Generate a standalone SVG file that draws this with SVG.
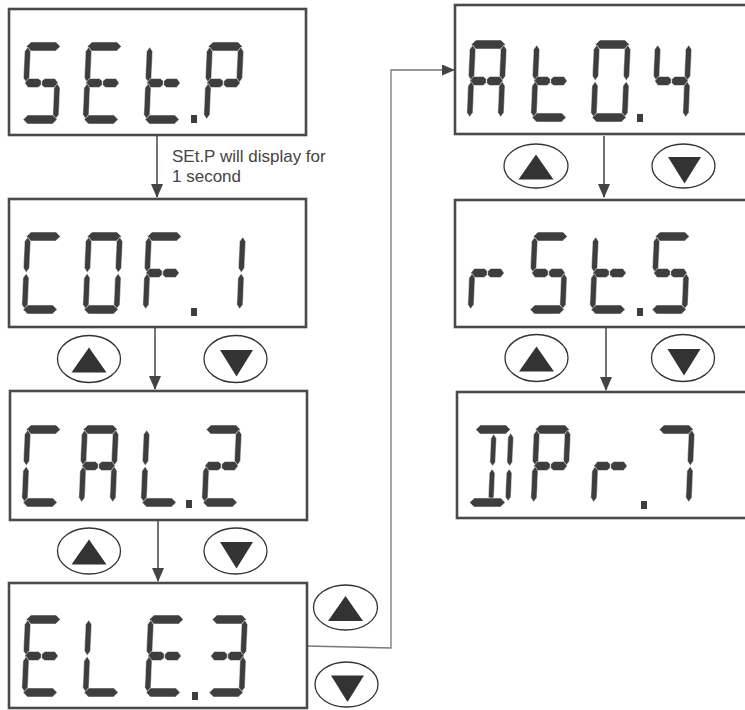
<svg xmlns="http://www.w3.org/2000/svg" width="745" height="710" viewBox="0 0 745 710">
<style>
.box{fill:#fff;stroke:#4a4a4a;stroke-width:2.6}
.seg{fill:#3e3e3e;stroke:#fff;stroke-width:0.5}
.btn{fill:#fff;stroke:#333;stroke-width:1.3}
.tri{fill:#333}
.con{fill:none;stroke:#444;stroke-width:1.5}
.con2{fill:none;stroke:#777;stroke-width:1.3}
.lbl{font-family:"Liberation Sans",Arial,sans-serif;font-size:17px;fill:#444}
</style>
<defs>
<marker id="ah" markerUnits="userSpaceOnUse" markerWidth="14" markerHeight="14" viewBox="0 0 14 12" refX="13" refY="6" orient="auto">
<path d="M0,0 L14,6 L0,12 Z" fill="#444"/>
</marker>
<marker id="ah2" markerUnits="userSpaceOnUse" markerWidth="13" markerHeight="11" viewBox="0 0 13 11" refX="12" refY="5.5" orient="auto">
<path d="M0,0 L13,5.5 L0,11 Z" fill="#444"/>
</marker>
<polygon id="sa" class="seg" points="1.5,4.5 6,0 31,0 35.5,4.5 31,9 6,9"/>
<polygon id="sd" class="seg" points="1.5,77.5 6,73 31,73 35.5,77.5 31,82 6,82"/>
<path id="sg" class="seg" d="M1.5,41 L5,36.5 L15,36.5 L18,39 L18,43 L15,45.5 L5,45.5 Z M18.5,39 L21.5,36.5 L31.5,36.5 L35,41 L31.5,45.5 L21.5,45.5 L18.5,43 Z"/>
<polygon id="sf" class="seg" points="3,5 6,9.5 6,36 3,40.5 0,36 0,9.5"/>
<polygon id="sb" class="seg" points="34,5 37,9.5 37,36 34,40.5 31,36 31,9.5"/>
<polygon id="se" class="seg" points="3,41.5 6,46 6,72.5 3,77 0,72.5 0,46"/>
<polygon id="sc" class="seg" points="34,41.5 37,46 37,72.5 34,77 31,72.5 31,46"/>
<rect id="dp" x="0" y="0" width="6" height="8" fill="#3e3e3e"/>
<polygon id="up" class="tri" points="0,-11.5 -17.5,13.5 17.5,13.5"/>
<polygon id="dn" class="tri" points="-15.5,-9 17.5,-9 1,17.5"/>
</defs>

<g id="connectors">
<line class="con" x1="157" y1="135" x2="157" y2="197" marker-end="url(#ah)"/>
<line class="con" x1="155" y1="327" x2="155" y2="389" marker-end="url(#ah)"/>
<line class="con" x1="158" y1="520" x2="158" y2="581" marker-end="url(#ah)"/>
<line class="con" x1="604" y1="136" x2="604" y2="197" marker-end="url(#ah)"/>
<line class="con" x1="606" y1="327" x2="606" y2="390" marker-end="url(#ah)"/>
<polyline class="con2" points="307,646 391,648 391,70 454,70" marker-end="url(#ah2)"/>
</g>

<text class="lbl" x="172" y="162">SEt.P will display for</text>
<text class="lbl" x="172" y="182">1 second</text>

<g id="setp">
<rect class="box" x="9" y="9" width="297" height="126"/>
<g transform="translate(25,42) skewX(-2.5)"><use href="#sa"/><use href="#sf"/><use href="#sg"/><use href="#sc"/><use href="#sd"/></g>
<g transform="translate(86,42) skewX(-2.5)"><use href="#sa"/><use href="#sf"/><use href="#sg"/><use href="#se"/><use href="#sd"/></g>
<g transform="translate(147,42) skewX(-2.5)"><use href="#sf"/><use href="#sg"/><use href="#se"/><use href="#sd"/></g>
<g transform="translate(207,42) skewX(-2.5)"><use href="#sa"/><use href="#sf"/><use href="#sb"/><use href="#sg"/><use href="#se"/></g>
<use href="#dp" x="191" y="115"/>
</g>

<g id="cof1">
<rect class="box" x="9" y="199" width="297" height="128"/>
<g transform="translate(25,232) skewX(-2.5)"><use href="#sa"/><use href="#sf"/><use href="#se"/><use href="#sd"/></g>
<g transform="translate(86,232) skewX(-2.5)"><use href="#sa"/><use href="#sf"/><use href="#sb"/><use href="#sc"/><use href="#se"/><use href="#sd"/></g>
<g transform="translate(146,232) skewX(-2.5)"><use href="#sa"/><use href="#sf"/><use href="#sg"/><use href="#se"/></g>
<g transform="translate(209,232) skewX(-2.5)"><use href="#sb"/><use href="#sc"/></g>
<use href="#dp" x="191" y="308"/>
</g>

<g id="cal2">
<rect class="box" x="10" y="391" width="297" height="129"/>
<g transform="translate(25,425) skewX(-2.5)"><use href="#sa"/><use href="#sf"/><use href="#se"/><use href="#sd"/></g>
<g transform="translate(82,425) skewX(-2.5)"><use href="#sa"/><use href="#sf"/><use href="#sb"/><use href="#sg"/><use href="#sc"/><use href="#se"/></g>
<g transform="translate(144,425) skewX(-2.5)"><use href="#sf"/><use href="#se"/><use href="#sd"/></g>
<g transform="translate(205,425) skewX(-2.5)"><use href="#sa"/><use href="#sb"/><use href="#sg"/><use href="#se"/><use href="#sd"/></g>
<use href="#dp" x="186" y="500"/>
</g>

<g id="ele3">
<rect class="box" x="9" y="583" width="298" height="125"/>
<g transform="translate(25,615) skewX(-2.5)"><use href="#sa"/><use href="#sf"/><use href="#sg"/><use href="#se"/><use href="#sd"/></g>
<g transform="translate(86,615) skewX(-2.5)"><use href="#sf"/><use href="#se"/><use href="#sd"/></g>
<g transform="translate(148,615) skewX(-2.5)"><use href="#sa"/><use href="#sf"/><use href="#sg"/><use href="#se"/><use href="#sd"/></g>
<g transform="translate(211,615) skewX(-2.5)"><use href="#sa"/><use href="#sb"/><use href="#sg"/><use href="#sc"/><use href="#sd"/></g>
<use href="#dp" x="192" y="692"/>
</g>

<g id="at04">
<rect class="box" x="455" y="5" width="297" height="129"/>
<g transform="translate(470,40) skewX(-2.5)"><use href="#sa"/><use href="#sf"/><use href="#sb"/><use href="#sg"/><use href="#sc"/><use href="#se"/></g>
<g transform="translate(534,40) skewX(-2.5)"><use href="#sf"/><use href="#sg"/><use href="#se"/><use href="#sd"/></g>
<g transform="translate(594,40) skewX(-2.5)"><use href="#sa"/><use href="#sf"/><use href="#sb"/><use href="#sc"/><use href="#se"/><use href="#sd"/></g>
<g transform="translate(655,40) skewX(-2.5)"><use href="#sf"/><use href="#sb"/><use href="#sg"/><use href="#sc"/></g>
<use href="#dp" x="637" y="114"/>
</g>

<g id="rsts">
<rect class="box" x="455" y="200" width="297" height="127"/>
<g transform="translate(471,232) skewX(-2.5)"><use href="#sg"/><use href="#se"/></g>
<g transform="translate(532,232) skewX(-2.5)"><use href="#sa"/><use href="#sf"/><use href="#sg"/><use href="#sc"/><use href="#sd"/></g>
<g transform="translate(593,232) skewX(-2.5)"><use href="#sf"/><use href="#sg"/><use href="#se"/><use href="#sd"/></g>
<g transform="translate(654,232) skewX(-2.5)"><use href="#sa"/><use href="#sf"/><use href="#sg"/><use href="#sc"/><use href="#sd"/></g>
<use href="#dp" x="637" y="308"/>
</g>

<g id="dpr7">
<rect class="box" x="457" y="392" width="297" height="126"/>
<g transform="translate(473,425) skewX(-2.5)">
<polygon class="seg" points="3,4.5 7.5,0 33,0 37.5,4.5 33,9 7.5,9"/>
<polygon class="seg" points="21,9 24,13.5 24,37 21.5,41 18.5,37 18.5,13.5"/>
<polygon class="seg" points="38,8 41,12.5 41,37 38.5,41 35.5,37 35.5,12.5"/>
<polygon class="seg" points="21,44 24,48 24,72 21.5,76 18.5,72 18.5,48"/>
<polygon class="seg" points="38,44 41,48 41,72 38.5,76 35.5,72 35.5,48"/>
<polygon class="seg" points="0,77.5 4.5,73 31,73 35.5,77.5 31,82 4.5,82"/>
</g>
<g transform="translate(534,425) skewX(-2.5)"><use href="#sa"/><use href="#sf"/><use href="#sb"/><use href="#sg"/><use href="#se"/></g>
<g transform="translate(594,425) skewX(-2.5)"><use href="#sg"/><use href="#se"/></g>
<g transform="translate(658,425) skewX(-2.5)"><use href="#sa"/><use href="#sb"/><use href="#sc"/></g>
<use href="#dp" x="641" y="501"/>
</g>

<g id="btn-up-1"><ellipse class="btn" cx="89" cy="359" rx="31.5" ry="23.5"/><use href="#up" x="89" y="359"/></g>
<g id="btn-dn-1"><ellipse class="btn" cx="235.5" cy="359" rx="31.5" ry="23.5"/><use href="#dn" x="235.5" y="359"/></g>
<g id="btn-up-2"><ellipse class="btn" cx="89" cy="551" rx="31.5" ry="23"/><use href="#up" x="89" y="551"/></g>
<g id="btn-dn-2"><ellipse class="btn" cx="235.5" cy="551" rx="31.5" ry="23"/><use href="#dn" x="235.5" y="551"/></g>
<g id="btn-up-3"><ellipse class="btn" cx="345.5" cy="607.5" rx="32" ry="22.5"/><use href="#up" x="345.5" y="607.5"/></g>
<g id="btn-dn-3"><ellipse class="btn" cx="346.5" cy="684.5" rx="31.5" ry="22.5"/><use href="#dn" x="346.5" y="684.5"/></g>
<g id="btn-up-4"><ellipse class="btn" cx="536" cy="166" rx="32" ry="22"/><use href="#up" x="536" y="166"/></g>
<g id="btn-dn-4"><ellipse class="btn" cx="683.5" cy="166" rx="31.5" ry="22"/><use href="#dn" x="683.5" y="166"/></g>
<g id="btn-up-5"><ellipse class="btn" cx="536.5" cy="358" rx="31.5" ry="23.5"/><use href="#up" x="536.5" y="358"/></g>
<g id="btn-dn-5"><ellipse class="btn" cx="683" cy="358" rx="31.5" ry="23.5"/><use href="#dn" x="683" y="358"/></g>
</svg>
